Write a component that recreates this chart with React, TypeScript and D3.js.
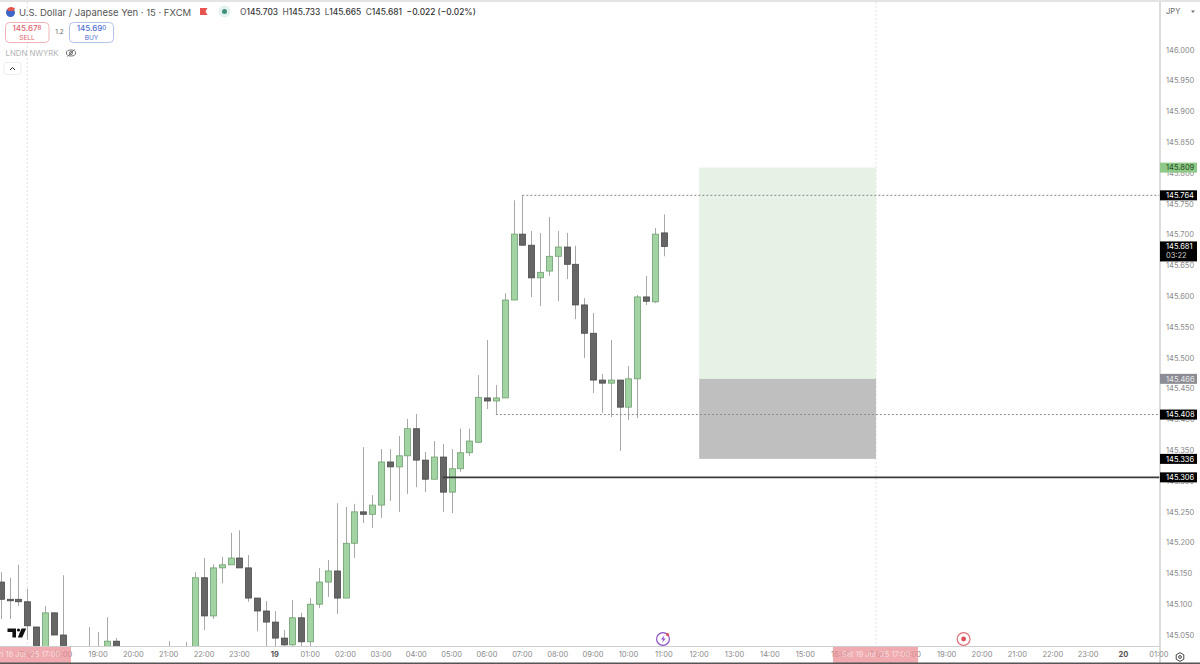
import React from "react";
import * as d3 from "d3";

const FONT = "Inter, 'Noto Sans', sans-serif";

// Bars run in 15-minute slots; slot 0 is 19:00 on the 18th.
const firstSlot = -11;
const highs = [
  145.152,145.143,145.164,145.125,145.063,145.097,145.086,145.147,145.028,145.026,145.063,
  145.055,145.079,145.045,145.026,145.025,145.028,145.027,145.024,145.040,145.024,145.039,
  145.152,145.175,145.165,145.177,145.216,145.220,145.180,145.110,145.105,145.089,145.058,
  145.107,145.086,145.110,145.159,145.172,145.264,145.258,145.263,145.355,145.277,145.352,
  145.352,145.373,145.401,145.409,145.347,145.365,145.360,145.352,145.385,145.385,145.472,
  145.529,145.456,145.605,145.756,145.764,145.706,145.703,145.729,145.706,145.703,145.682,
  145.597,145.573,145.474,145.529,145.464,145.487,145.602,145.633,145.711,145.733];
const opens = [
  145.136,145.108,145.108,145.104,145.063,145.010,145.086,145.050,145.025,145.020,145.020,
  145.015,145.010,145.040,145.020,145.018,145.021,145.020,145.018,145.016,145.019,145.017,
  145.010,145.143,145.081,145.159,145.164,145.175,145.159,145.110,145.089,145.071,145.045,
  145.034,145.078,145.039,145.100,145.136,145.154,145.110,145.199,145.250,145.246,145.261,
  145.331,145.323,145.341,145.385,145.334,145.303,145.339,145.282,145.320,145.346,145.363,
  145.435,145.430,145.435,145.594,145.701,145.683,145.630,145.641,145.665,145.680,145.652,
  145.586,145.540,145.464,145.459,145.464,145.420,145.466,145.599,145.591,145.703];
const closes = [
  145.108,145.107,145.104,145.065,145.010,145.086,145.050,145.010,145.015,145.024,145.015,
  145.020,145.040,145.015,145.024,145.015,145.016,145.023,145.014,145.021,145.013,145.022,
  145.143,145.081,145.159,145.164,145.175,145.159,145.110,145.089,145.071,145.045,145.034,
  145.078,145.039,145.100,145.136,145.154,145.110,145.199,145.250,145.246,145.261,145.331,
  145.323,145.341,145.385,145.334,145.303,145.339,145.282,145.320,145.346,145.365,145.436,
  145.430,145.435,145.594,145.701,145.683,145.630,145.639,145.665,145.680,145.652,145.586,
  145.540,145.464,145.459,145.464,145.420,145.466,145.599,145.592,145.701,145.681];
const lows = [
  145.076,145.076,145.097,145.042,145.010,145.010,145.050,145.005,145.012,145.012,145.005,
  145.005,145.005,145.005,145.012,145.012,145.012,145.012,145.012,145.012,145.012,145.012,
  145.005,145.058,145.076,145.134,145.164,145.159,145.104,145.056,145.010,145.010,145.010,
  145.010,145.010,145.010,145.094,145.112,145.084,145.110,145.175,145.232,145.224,145.240,
  145.268,145.250,145.279,145.290,145.282,145.303,145.250,145.248,145.315,145.341,145.363,
  145.417,145.409,145.435,145.594,145.683,145.599,145.584,145.633,145.592,145.628,145.563,
  145.500,145.443,145.411,145.404,145.349,145.399,145.402,145.586,145.589,145.665];

const priceTicks = [146,145.95,145.9,145.85,145.8,145.75,145.7,145.65,145.6,145.55,145.5,145.45,145.4,145.35,145.3,145.25,145.2,145.15,145.1,145.05];
const timeTicks: [number, string, boolean][] = [[-8,"17:00",false],[-4,"18:00",false],[0,"19:00",false],[4,"20:00",false],[8,"21:00",false],[12,"22:00",false],[16,"23:00",false],[20,"19",true],[24,"01:00",false],[28,"02:00",false],[32,"03:00",false],[36,"04:00",false],[40,"05:00",false],[44,"06:00",false],[48,"07:00",false],[52,"08:00",false],[56,"09:00",false],[60,"10:00",false],[64,"11:00",false],[68,"12:00",false],[72,"13:00",false],[76,"14:00",false],[80,"15:00",false],[84,"16:00",false],[88,"17:00",false],[92,"18:00",false],[96,"19:00",false],[100,"20:00",false],[104,"21:00",false],[108,"22:00",false],[112,"23:00",false],[116,"20",true],[120,"01:00",false]];

const entryPrice = 145.466;
const targetPrice = 145.809;
const stopPrice = 145.336;
const swingHigh = 145.764;
const swingLow = 145.408;
const levelPrice = 145.306;
const lastPrice = 145.681;
const positionSlots = [68, 88];
const swingHighSlot = 48;
const swingLowSlot = 45;
const levelSlot = 39;
const crosshairSlots = [-8, 88];

const x = d3.scaleLinear().domain([0, 64]).range([98, 663.8]);
const y = d3.scaleLinear().domain([146, 145]).range([50, 665.8]);

const AXIS_X = 1160;
const AXIS_Y = 646.5;
const TICK = "#8a8a8a";
const fmt = d3.format(".3f");
const TICK_SIZE = 7.5;

function PriceTag({ price, bg, color = "#fff", sub }: { price: number; bg: string; color?: string; sub?: string }) {
  const cy = y(price);
  const h = sub ? 20 : 10;
  const top = cy - 5;
  return (
    <g>
      <rect x={AXIS_X} y={top} width={37} height={h} fill={bg} />
      <text x={1166} y={top + 7.7} fontSize={TICK_SIZE} fill={color}>{fmt(price)}</text>
      {sub && <text x={1166} y={top + 16.5} fontSize={TICK_SIZE} fill="#cfcfcf">{sub}</text>}
    </g>
  );
}

export default function App() {
  const bars = opens.map((o, i) => ({ slot: firstSlot + i, o, c: closes[i], h: highs[i], l: lows[i] }));
  return (
    <svg width={1200} height={664} viewBox="0 0 1200 664" fontFamily={FONT}
      style={{ position: "absolute", left: 0, top: 0, display: "block", background: "#fff" }}>
      <defs>
        <clipPath id="plot"><rect x={0} y={0} width={AXIS_X} height={AXIS_Y} /></clipPath>
      </defs>
      <rect width={1200} height={2} fill="#e4e4e4" />

      {crosshairSlots.map((s, i) => (
        <line key={i} x1={x(s)} x2={x(s)} y1={2} y2={AXIS_Y} stroke="#e2e2e2" strokeDasharray="2 2" />
      ))}

      {/* position tool */}
      <rect x={x(positionSlots[0])} width={x(positionSlots[1]) - x(positionSlots[0])} y={y(targetPrice)}
        height={y(entryPrice) - y(targetPrice)} fill="#e6f2e6" />
      <rect x={x(positionSlots[0])} width={x(positionSlots[1]) - x(positionSlots[0])} y={y(entryPrice)}
        height={y(stopPrice) - y(entryPrice)} fill="#bfbfbf" />

      <g clipPath="url(#plot)">
        {bars.map((b) => {
          const up = b.c >= b.o;
          const top = y(Math.max(b.o, b.c));
          const bot = y(Math.min(b.o, b.c));
          const cx = Math.round(x(b.slot)) + 0.5;
          return (
            <g key={b.slot}>
              <line x1={cx} x2={cx} y1={y(b.h)} y2={y(b.l)} stroke="#a8a8a8" strokeWidth={1} />
              <rect x={cx - 3} y={top} width={6} height={Math.max(bot - top, 1.5)}
                fill={up ? "#a2d3a2" : "#666666"} stroke={up ? "#6f9f6f" : "#4a4a4a"} strokeWidth={0.8} />
            </g>
          );
        })}
      </g>

      {/* levels */}
      <line x1={x(swingHighSlot)} x2={AXIS_X} y1={y(swingHigh)} y2={y(swingHigh)} stroke="#8a8a8a" strokeDasharray="2 2" />
      <line x1={x(swingLowSlot)} x2={AXIS_X} y1={y(swingLow)} y2={y(swingLow)} stroke="#8a8a8a" strokeDasharray="2 2" />
      <line x1={x(levelSlot)} x2={AXIS_X} y1={y(levelPrice)} y2={y(levelPrice)} stroke="#3a3a3a" strokeWidth={1.6} />

      {/* axes */}
      <line x1={0} x2={AXIS_X} y1={AXIS_Y} y2={AXIS_Y} stroke="#cfcfcf" />
      <line x1={AXIS_X} x2={AXIS_X} y1={2} y2={664} stroke="#d0d0d0" strokeWidth={1.5} />
      {priceTicks.map((p) => (
        <text key={p} x={1166} y={y(p) + 2.7} fontSize={TICK_SIZE} fill={TICK}>{fmt(p)}</text>
      ))}
      <text x={1166} y={14} fontSize={7.6} fill="#666">JPY</text>
      <path d="M1191 10.5h4l-2 2.5z" fill="#777" />

      {timeTicks.map(([s, label, bold], i) => (
        <text key={i} x={x(s)} y={657} textAnchor="middle" fontSize={TICK_SIZE} fill={bold ? "#555" : TICK}
          fontWeight={bold ? 700 : 400}>{label}</text>
      ))}
      <rect x={0} y={647} width={71} height={16} fill="#ea8f94" opacity={0.75} />
      <text x={x(crosshairSlots[0])} y={657} textAnchor="middle" fontSize={TICK_SIZE} fill="#fff" opacity={0.6}>Fri 18 Jul '25  17:00</text>
      <rect x={833} y={647} width={85} height={16} fill="#ea8f94" opacity={0.75} />
      <text x={x(crosshairSlots[1])} y={657} textAnchor="middle" fontSize={TICK_SIZE} fill="#fff" opacity={0.6}>Sat 19 Jul '25  17:00</text>
      <rect x={0} y={662.5} width={1200} height={1.5} fill="#555" />

      {/* price tags */}
      <PriceTag price={targetPrice} bg="#8fc987" color="#1f4d1f" />
      <PriceTag price={swingHigh} bg="#000" />
      <PriceTag price={lastPrice} bg="#000" sub="03:22" />
      <PriceTag price={entryPrice} bg="#8c8c94" color="#e8e8e8" />
      <PriceTag price={swingLow} bg="#000" />
      <PriceTag price={stopPrice} bg="#000" />
      <PriceTag price={levelPrice} bg="#000" />

      {/* header */}
      <circle cx={10.5} cy={12.5} r={4.5} fill="#3f66c9" />
      <path d="M7 9.5a5 5 0 0 1 8-1l-1.5 2.5h-5z" fill="#e2574c" />
      <text x={19} y={15.6} fontSize={9.5} fill="#555">U.S. Dollar / Japanese Yen · 15 · FXCM</text>
      <path d="M200 8h7.5l-2 3.5 2 3.5H200z" fill="#e8534f" />
      <circle cx={224.5} cy={11.5} r={6} fill="#e3f2ee" />
      <circle cx={224.5} cy={11.5} r={2.5} fill="#3f9080" />
      <text x={240} y={14.8} fontSize={8.4} fill="#333" fontWeight={500}>
        <tspan fill="#666">O</tspan>145.703<tspan fill="#666" dx={4.5}>H</tspan>145.733<tspan fill="#666" dx={4.5}>L</tspan>145.665<tspan fill="#666" dx={4.5}>C</tspan>145.681<tspan dx={4.5}>−0.022 (−0.02%)</tspan>
      </text>

      <rect x={5.5} y={22.5} width={43.5} height={20} rx={4} fill="#fff" stroke="#efb4b8" />
      <text x={27} y={31} textAnchor="middle" fontSize={8} fill="#e0626c" fontWeight={500}>145.67<tspan fontSize={6.2} dy={-1}>8</tspan></text>
      <text x={27} y={39.8} textAnchor="middle" fontSize={6.6} fill="#e0626c">SELL</text>
      <text x={59.5} y={34.2} textAnchor="middle" fontSize={6.4} fill="#666">1.2</text>
      <rect x={69.5} y={22.5} width={44} height={20} rx={4} fill="#fff" stroke="#b2c3ec" />
      <text x={91.5} y={31} textAnchor="middle" fontSize={8} fill="#4f70cf" fontWeight={500}>145.69<tspan fontSize={6.2} dy={-1}>0</tspan></text>
      <text x={91.5} y={39.8} textAnchor="middle" fontSize={6.6} fill="#4f70cf">BUY</text>

      <text x={5.5} y={56} fontSize={7.8} fill="#b5b5b5">LNDN NWYRK</text>
      <g stroke="#666" fill="none" strokeWidth={0.9}>
        <ellipse cx={71} cy={53} rx={4.6} ry={3} />
        <circle cx={71} cy={53} r={1.5} />
        <line x1={67.5} y1={56.5} x2={74.5} y2={49.5} />
      </g>
      <rect x={4} y={62.5} width={17} height={12} rx={2.5} fill="#fff" stroke="#ececec" />
      <path d="M10 70l2.5-2.5 2.5 2.5" fill="none" stroke="#333" strokeWidth={1} />

      {/* logo */}
      <path d="M7.5 628.5h8.5v9h-3.6v-5.6H7.5z" fill="#111" />
      <circle cx={18.5} cy={630} r={1.6} fill="#111" />
      <path d="M21.5 628.5h4.7l-4 9h-4.4z" fill="#111" />

      {/* event icons */}
      <circle cx={663} cy={639} r={6.4} fill="#fff" stroke="#8f4fc4" strokeWidth={1.2} />
      <path d="M664.5 635l-3.5 4.6h2.2l-1.2 3.4 3.6-4.6h-2.2z" fill="#8f4fc4" />
      <circle cx={667.6} cy={634.6} r={1.6} fill="#e0505a" />
      <circle cx={963.6} cy={639} r={6.4} fill="#fff" stroke="#e0707a" strokeWidth={1.2} />
      <circle cx={963.6} cy={639} r={2.4} fill="#e0505a" />

      {/* settings */}
      <path d="M1180 652.6l3.8 2.2v4.4l-3.8 2.2-3.8-2.2v-4.4z" fill="none" stroke="#444" strokeWidth={1} />
      <circle cx={1180} cy={657} r={1.4} fill="none" stroke="#444" strokeWidth={1} />
    </svg>
  );
}
